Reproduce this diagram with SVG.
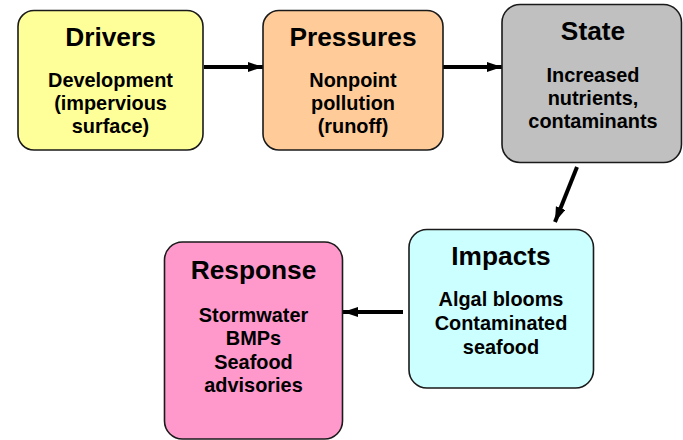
<svg xmlns="http://www.w3.org/2000/svg" width="683" height="440" viewBox="0 0 683 440">
<style>
.box{stroke:#1a1a1a;stroke-width:1.6}
.title{font-family:"Liberation Sans",Arial,sans-serif;font-weight:bold;font-size:26.3px;text-anchor:middle;fill:#000}
.sub{font-family:"Liberation Sans",Arial,sans-serif;font-weight:bold;font-size:19.9px;text-anchor:middle;fill:#000}
.conn{stroke:#000;stroke-width:4;fill:none;marker-end:url(#ah)}
</style>
<defs>
<marker id="ah" markerUnits="userSpaceOnUse" markerWidth="16" markerHeight="12" refX="15" refY="5" orient="auto">
<path d="M0,0 L15,5 L0,10 Z" fill="#000"/>
</marker>
</defs>
<rect width="683" height="440" fill="#fff"/>
<g id="connectors">
<line class="conn" x1="204" y1="67" x2="263" y2="67"/>
<line class="conn" x1="443" y1="67" x2="502" y2="67"/>
<line class="conn" x1="577" y1="167" x2="555" y2="222"/>
<line class="conn" x1="403" y1="312" x2="343" y2="312"/>
</g>
<g id="drivers">
<rect class="box" x="18" y="10.5" width="185" height="139.5" rx="16" fill="#FFFF99"/>
<text class="title" x="110.5" y="46">Drivers</text>
<text class="sub" x="110.5" y="87">Development</text>
<text class="sub" x="110.5" y="110">(impervious</text>
<text class="sub" x="110.5" y="133">surface)</text>
</g>
<g id="pressures">
<rect class="box" x="263" y="10.5" width="180" height="139.5" rx="16" fill="#FFCC99"/>
<text class="title" x="353" y="46">Pressures</text>
<text class="sub" x="353" y="87">Nonpoint</text>
<text class="sub" x="353" y="110">pollution</text>
<text class="sub" x="353" y="133">(runoff)</text>
</g>
<g id="state">
<rect class="box" x="502" y="4.5" width="179.5" height="158" rx="18" fill="#C0C0C0"/>
<text class="title" x="593" y="40">State</text>
<text class="sub" x="593" y="82">Increased</text>
<text class="sub" x="593" y="105">nutrients,</text>
<text class="sub" x="593" y="128">contaminants</text>
</g>
<g id="impacts">
<rect class="box" x="409" y="229.5" width="184.5" height="158.5" rx="18" fill="#CCFFFF"/>
<text class="title" x="501" y="265">Impacts</text>
<text class="sub" x="501" y="306">Algal blooms</text>
<text class="sub" x="501" y="330">Contaminated</text>
<text class="sub" x="501" y="354">seafood</text>
</g>
<g id="response">
<rect class="box" x="164.5" y="242" width="178" height="197" rx="18" fill="#FF99CC"/>
<text class="title" x="253.5" y="279">Response</text>
<text class="sub" x="253.5" y="322">Stormwater</text>
<text class="sub" x="253.5" y="345">BMPs</text>
<text class="sub" x="253.5" y="369">Seafood</text>
<text class="sub" x="253.5" y="392">advisories</text>
</g>
</svg>
